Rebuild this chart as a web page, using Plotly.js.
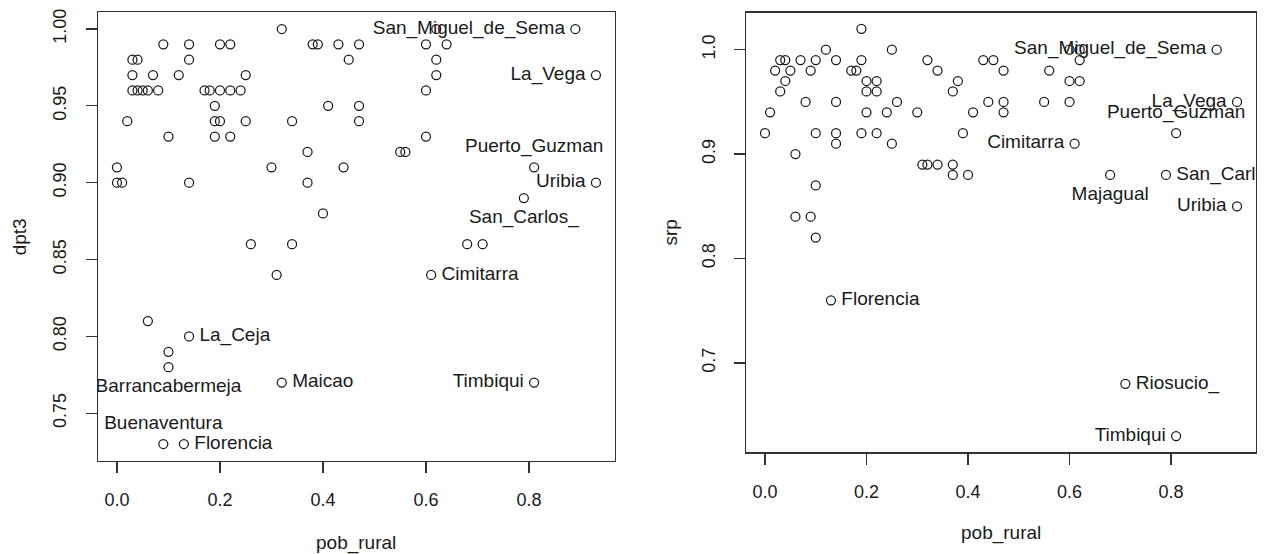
<!DOCTYPE html>
<html>
<head>
<meta charset="utf-8">
<script src="https://cdn.plot.ly/plotly-3.0.1.min.js"></script>
<style>html,body{margin:0;padding:0;background:#fff;}#chart{width:1269px;height:554px;}</style>
</head>
<body>
<div id="chart"></div>
<script>
// ---------- DATA ----------
// Left panel: dpt3 vs pob_rural
const pobRuralA = [
  0.32, 0.62, 0.89,
  0.09, 0.14, 0.20, 0.22, 0.38, 0.39, 0.43, 0.47, 0.60, 0.64,
  0.03, 0.04, 0.14, 0.45, 0.62,
  0.03, 0.07, 0.12, 0.25, 0.62, 0.93,
  0.03, 0.04, 0.05, 0.06, 0.08, 0.17, 0.18, 0.20, 0.22, 0.24, 0.60,
  0.19, 0.41, 0.47,
  0.02, 0.19, 0.20, 0.25, 0.34, 0.47,
  0.10, 0.19, 0.22, 0.60,
  0.37, 0.55, 0.56,
  0.00, 0.30, 0.44, 0.81,
  0.00, 0.01, 0.14, 0.37, 0.93,
  0.79,
  0.40,
  0.26, 0.34, 0.68, 0.71,
  0.31, 0.61,
  0.06,
  0.14,
  0.10,
  0.10,
  0.32, 0.81,
  0.09, 0.13
];
const dpt3 = [
  1.00, 1.00, 1.00,
  0.99, 0.99, 0.99, 0.99, 0.99, 0.99, 0.99, 0.99, 0.99, 0.99,
  0.98, 0.98, 0.98, 0.98, 0.98,
  0.97, 0.97, 0.97, 0.97, 0.97, 0.97,
  0.96, 0.96, 0.96, 0.96, 0.96, 0.96, 0.96, 0.96, 0.96, 0.96, 0.96,
  0.95, 0.95, 0.95,
  0.94, 0.94, 0.94, 0.94, 0.94, 0.94,
  0.93, 0.93, 0.93, 0.93,
  0.92, 0.92, 0.92,
  0.91, 0.91, 0.91, 0.91,
  0.90, 0.90, 0.90, 0.90, 0.90,
  0.89,
  0.88,
  0.86, 0.86, 0.86, 0.86,
  0.84, 0.84,
  0.81,
  0.80,
  0.79,
  0.78,
  0.77, 0.77,
  0.73, 0.73
];
const labelsA  = ["San_Miguel_de_Sema","La_Vega","Puerto_Guzman","Uribia","San_Carlos_","Cimitarra","La_Ceja","Barrancabermeja","Maicao","Timbiqui","Buenaventura","Florencia"];
const labelsAx = [0.89, 0.93, 0.81, 0.93, 0.79, 0.61, 0.14, 0.10, 0.32, 0.81, 0.09, 0.13];
const labelsAy = [1.00, 0.97, 0.91, 0.90, 0.89, 0.84, 0.80, 0.78, 0.77, 0.77, 0.73, 0.73];

// Right panel: srp vs pob_rural
const pobRuralB = [
  0.19,
  0.12, 0.25, 0.60, 0.62, 0.89,
  0.03, 0.04, 0.07, 0.10, 0.14, 0.19, 0.32, 0.43, 0.45, 0.62,
  0.02, 0.05, 0.09, 0.17, 0.18, 0.34, 0.47, 0.56,
  0.04, 0.20, 0.22, 0.38, 0.60, 0.62,
  0.03, 0.20, 0.22, 0.37,
  0.08, 0.14, 0.26, 0.44, 0.47, 0.55, 0.60, 0.93,
  0.01, 0.20, 0.24, 0.30, 0.41, 0.47,
  0.00, 0.10, 0.14, 0.19, 0.22, 0.39, 0.81,
  0.14, 0.25, 0.61,
  0.06,
  0.31, 0.32, 0.34, 0.37,
  0.37, 0.40, 0.68, 0.79,
  0.10,
  0.93,
  0.06, 0.09,
  0.10,
  0.13,
  0.71,
  0.81
];
const srp = [
  1.02,
  1.00, 1.00, 1.00, 1.00, 1.00,
  0.99, 0.99, 0.99, 0.99, 0.99, 0.99, 0.99, 0.99, 0.99, 0.99,
  0.98, 0.98, 0.98, 0.98, 0.98, 0.98, 0.98, 0.98,
  0.97, 0.97, 0.97, 0.97, 0.97, 0.97,
  0.96, 0.96, 0.96, 0.96,
  0.95, 0.95, 0.95, 0.95, 0.95, 0.95, 0.95, 0.95,
  0.94, 0.94, 0.94, 0.94, 0.94, 0.94,
  0.92, 0.92, 0.92, 0.92, 0.92, 0.92, 0.92,
  0.91, 0.91, 0.91,
  0.90,
  0.89, 0.89, 0.89, 0.89,
  0.88, 0.88, 0.88, 0.88,
  0.87,
  0.85,
  0.84, 0.84,
  0.82,
  0.76,
  0.68,
  0.63
];
const labelsB  = ["San_Miguel_de_Sema","La_Vega","Puerto_Guzman","Cimitarra","Majagual","San_Carlos_","Uribia","Florencia","Riosucio_","Timbiqui"];
const labelsBx = [0.89, 0.93, 0.81, 0.61, 0.68, 0.79, 0.93, 0.13, 0.71, 0.81];
const labelsBy = [1.00, 0.95, 0.92, 0.91, 0.88, 0.88, 0.85, 0.76, 0.68, 0.63];

// ---------- STYLE ----------
const posA = ["middle left","middle left","top center","middle left","bottom center","middle right","middle right","bottom center","middle right","middle left","top center","middle right"];
const posB = ["middle left","middle left","top center","middle left","bottom center","middle right","middle left","middle right","middle right","middle left"];

const FONT = "Liberation Sans, Arial, Helvetica, sans-serif";
const FS = 18;      // tick labels
const FL = 19;      // point labels and axis titles
const INK = "#1a1a1a";

function rRange(v) { // R-style 4% padding
  const lo = Math.min(...v), hi = Math.max(...v), p = (hi - lo) * 0.04;
  return [lo - p, hi + p];
}

const W = 1269, H = 554;
const dom = (a, b, n) => [a / n, b / n];

const pointStyle = {symbol: "circle-open", size: 9, color: INK, line: {width: 1.25, color: INK}};

const traces = [
  {x: pobRuralA, y: dpt3, type: "scatter", mode: "markers", marker: pointStyle, xaxis: "x", yaxis: "y", hoverinfo: "x+y"},
  {x: labelsAx, y: labelsAy, text: labelsA, type: "scatter", mode: "markers+text", textposition: posA,
   marker: {size: 15, opacity: 0}, textfont: {family: FONT, size: FL, color: INK}, cliponaxis: true,
   xaxis: "x", yaxis: "y", hoverinfo: "skip"},
  {x: pobRuralB, y: srp, type: "scatter", mode: "markers", marker: pointStyle, xaxis: "x2", yaxis: "y2", hoverinfo: "x+y"},
  {x: labelsBx, y: labelsBy, text: labelsB, type: "scatter", mode: "markers+text", textposition: posB,
   marker: {size: 15, opacity: 0}, textfont: {family: FONT, size: FL, color: INK}, cliponaxis: true,
   xaxis: "x2", yaxis: "y2", hoverinfo: "skip"}
];

const axBase = {
  showgrid: false, zeroline: false, showline: true, mirror: true,
  linecolor: "#333", linewidth: 1.2,
  ticks: "outside", ticklen: 11, tickwidth: 1.2, tickcolor: "#333",
  tickfont: {family: FONT, size: FS, color: INK},
  ticklabelstandoff: 12
};

const layout = {
  width: W, height: H,
  margin: {l: 0, r: 0, t: 0, b: 0},
  paper_bgcolor: "#fff", plot_bgcolor: "#fff",
  showlegend: false,
  font: {family: FONT, size: FS, color: INK},
  xaxis: Object.assign({}, axBase, {domain: dom(97.8, 615.1, W), range: rRange(pobRuralA), dtick: 0.2, tick0: 0, tickformat: ".1f", anchor: "y"}),
  yaxis: Object.assign({}, axBase, {domain: [1 - 460.6 / H, 1 - 12.4 / H], range: rRange(dpt3), dtick: 0.05, tick0: 0, tickformat: ".2f", tickangle: -90, anchor: "x"}),
  xaxis2: Object.assign({}, axBase, {domain: dom(746.1, 1255.9, W), range: rRange(pobRuralB), dtick: 0.2, tick0: 0, tickformat: ".1f", anchor: "y2"}),
  yaxis2: Object.assign({}, axBase, {domain: [1 - 452.3 / H, 1 - 12.5 / H], range: rRange(srp), dtick: 0.1, tick0: 0, tickformat: ".1f", tickangle: -90, anchor: "x2"}),
  annotations: [
    {text: "pob_rural", xref: "x domain", yref: "y domain", x: 0.5, y: 0, yshift: -82, showarrow: false, xanchor: "center", yanchor: "middle", font: {family: FONT, size: FL, color: INK}},
    {text: "dpt3", xref: "x domain", yref: "y domain", x: 0, y: 0.5, xshift: -78, showarrow: false, textangle: -90, xanchor: "center", yanchor: "middle", font: {family: FONT, size: FL, color: INK}},
    {text: "pob_rural", xref: "x2 domain", yref: "y2 domain", x: 0.5, y: 0, yshift: -81, showarrow: false, xanchor: "center", yanchor: "middle", font: {family: FONT, size: FL, color: INK}},
    {text: "srp", xref: "x2 domain", yref: "y2 domain", x: 0, y: 0.5, xshift: -76, showarrow: false, textangle: -90, xanchor: "center", yanchor: "middle", font: {family: FONT, size: FL, color: INK}}
  ]
};

Plotly.newPlot("chart", traces, layout, {staticPlot: true, displayModeBar: false});
</script>
</body>
</html>
